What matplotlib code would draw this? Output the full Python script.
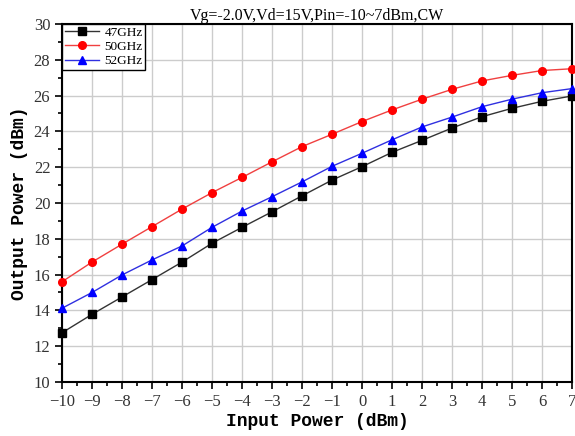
import matplotlib
matplotlib.use("Agg")
import matplotlib.pyplot as plt
from matplotlib.ticker import MultipleLocator

# Input sweep (dBm)
pin = [-10, -9, -8, -7, -6, -5, -4, -3, -2, -1, 0, 1, 2, 3, 4, 5, 6, 7]

# Output power per frequency (dBm)
pout_47 = [12.75, 13.78, 14.75, 15.72, 16.70, 17.75, 18.64, 19.51, 20.40, 21.28,
           22.03, 22.83, 23.50, 24.19, 24.82, 25.29, 25.68, 25.98]
pout_50 = [15.60, 16.70, 17.70, 18.68, 19.66, 20.58, 21.43, 22.30, 23.15, 23.84,
           24.55, 25.20, 25.80, 26.35, 26.82, 27.13, 27.40, 27.50]
pout_52 = [14.12, 15.00, 15.98, 16.82, 17.60, 18.64, 19.55, 20.35, 21.18, 22.05,
           22.78, 23.53, 24.25, 24.80, 25.38, 25.80, 26.16, 26.39]

series = [
    ("47GHz", pout_47, "black", "#333333", "s"),
    ("50GHz", pout_50, "red", "#f04040", "o"),
    ("52GHz", pout_52, "blue", "#3030e0", "^"),
]

fig = plt.figure(figsize=(5.75, 4.36), dpi=100)
ax = fig.add_axes([0.108, 0.124, 0.887, 0.821])

for name, vals, mcol, lcol, mk in series:
    ax.plot(pin, vals, color=lcol, lw=1.0, marker=mk, ms=5.5,
            mfc=mcol, mec=mcol, label=name, clip_on=False, zorder=3)

ax.set_xlim(-10, 7)
ax.set_ylim(10, 30)
ax.xaxis.set_major_locator(MultipleLocator(1))
ax.xaxis.set_minor_locator(MultipleLocator(0.5))
ax.yaxis.set_major_locator(MultipleLocator(2))
ax.yaxis.set_minor_locator(MultipleLocator(1))
ax.grid(True, which="major", color="#cccccc", lw=1.0)
ax.set_axisbelow(True)

for s in ax.spines.values():
    s.set_linewidth(1.5)
ax.tick_params(which="both", direction="out", top=False, right=False, width=1.2)
ax.tick_params(which="major", length=5, labelsize=12, colors="black",
               labelcolor="#333333")
ax.tick_params(which="minor", length=3)

ax.set_xticks(pin)
ax.set_xticklabels([str(v).replace("-", "\u2212") for v in pin])
for lab in ax.get_xticklabels() + ax.get_yticklabels():
    lab.set_family("Liberation Serif")

ax.set_xlabel("Input Power (dBm)", family="Liberation Mono", fontweight="bold",
              fontsize=13, labelpad=2)
ax.set_ylabel("Output Power (dBm)", family="Liberation Mono", fontweight="bold",
              fontsize=13, labelpad=4)
ax.set_title("Vg=-2.0V,Vd=15V,Pin=-10~7dBm,CW", family="Liberation Serif",
             fontsize=11.5, pad=3)

leg = ax.legend(loc="upper left", borderaxespad=0, fancybox=False,
                prop={"family": "Liberation Serif", "size": 9.5},
                handlelength=2.6, handletextpad=0.4, borderpad=0.2,
                labelspacing=0.15, framealpha=1)
leg.get_frame().set_edgecolor("black")
leg.get_frame().set_linewidth(1.0)

fig.savefig("out.png", dpi=100)
